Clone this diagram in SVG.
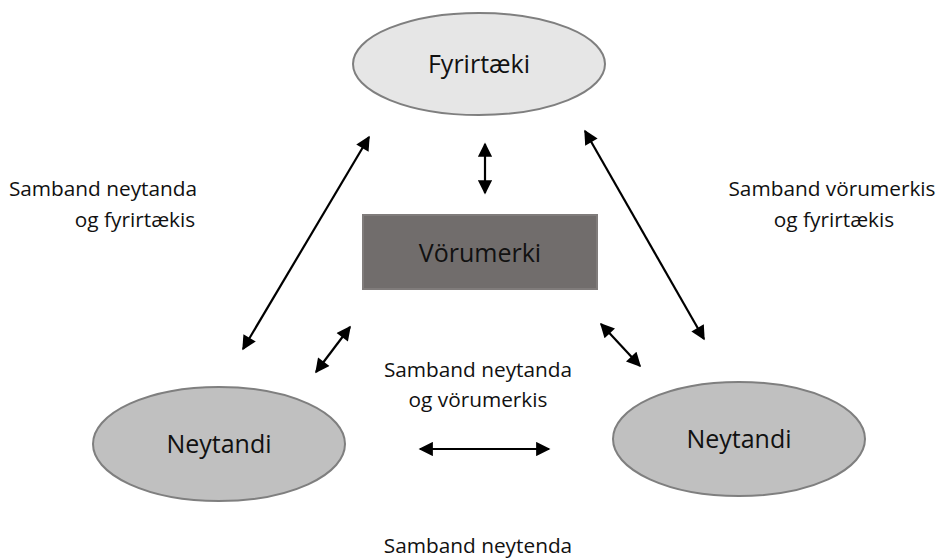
<svg xmlns="http://www.w3.org/2000/svg" width="951" height="560" viewBox="0 0 951 560">
<style>
text{font-family:"Open Sans","Liberation Sans",sans-serif;fill:#111;text-anchor:middle}
.lbl{font-size:20.8px}
.nt{font-size:25px}
.conn line{stroke:#000;stroke-width:2.2;marker-start:url(#ah);marker-end:url(#ah)}
</style>
<defs>
<marker id="ah" viewBox="0 0 10 10" refX="9" refY="5" markerWidth="7" markerHeight="6.5" orient="auto-start-reverse" markerUnits="strokeWidth">
<path d="M0,0 L10,5 L0,10 z" fill="#000"/>
</marker>
</defs>
<rect width="951" height="560" fill="#fff"/>
<g id="fyrirtaeki">
<ellipse cx="479" cy="64" rx="126" ry="51" fill="#e6e6e6" stroke="#7f7f7f" stroke-width="2"/>
<text class="nt" x="479" y="73">Fyrirtæki</text>
</g>
<g id="vorumerki">
<rect x="363" y="215" width="234" height="74" fill="#716d6c" stroke="#807c7b" stroke-width="2"/>
<text class="nt" x="480" y="262">Vörumerki</text>
</g>
<g id="neytandi-left">
<ellipse cx="219" cy="444" rx="126" ry="57" fill="#c0c0c0" stroke="#7f7f7f" stroke-width="2"/>
<text class="nt" x="219" y="453">Neytandi</text>
</g>
<g id="neytandi-right">
<ellipse cx="739" cy="439" rx="126" ry="57" fill="#c0c0c0" stroke="#7f7f7f" stroke-width="2"/>
<text class="nt" x="739" y="448">Neytandi</text>
</g>
<g class="conn" id="connectors">
<line x1="243" y1="349" x2="369" y2="137"/>
<line x1="316" y1="372" x2="350" y2="327"/>
<line x1="585" y1="131" x2="704" y2="339"/>
<line x1="601" y1="324" x2="640" y2="366"/>
<line x1="485" y1="144" x2="485" y2="193"/>
<line x1="420" y1="449" x2="549" y2="449"/>
</g>
<g id="labels">
<text class="lbl" x="103" y="196">Samband neytanda</text>
<text class="lbl" x="135" y="227">og fyrirtækis</text>
<text class="lbl" x="832" y="196">Samband vörumerkis</text>
<text class="lbl" x="834" y="227">og fyrirtækis</text>
<text class="lbl" x="478" y="377">Samband neytanda</text>
<text class="lbl" x="478" y="407">og vörumerkis</text>
<text class="lbl" x="478" y="553">Samband neytenda</text>
</g>
</svg>
